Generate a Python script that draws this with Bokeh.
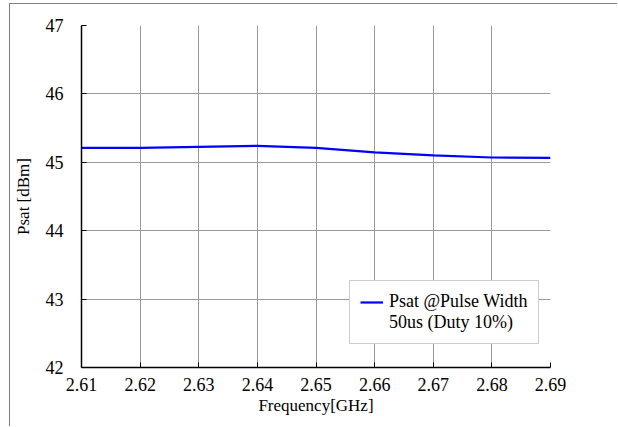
from bokeh.plotting import figure
from bokeh.models import (FixedTicker, NumeralTickFormatter, Legend, LegendItem, Range1d)
from bokeh.embed import file_html
from bokeh.resources import INLINE

freq = [2.61, 2.62, 2.63, 2.64, 2.65, 2.66, 2.67, 2.68, 2.69]
psat = [45.21, 45.21, 45.225, 45.24, 45.21, 45.145, 45.10, 45.07, 45.065]
x_ticks = [2.61, 2.62, 2.63, 2.64, 2.65, 2.66, 2.67, 2.68, 2.69]
y_ticks = [42, 43, 44, 45, 46, 47]
label_1 = "Psat @Pulse Width"
label_2 = "50us (Duty 10%)"

FONT = "Liberation Serif"

p = figure(width=608, height=423, output_backend="svg", toolbar_location=None,
           x_range=Range1d(2.61, 2.69), y_range=Range1d(42, 47),
           min_border_left=70, min_border_right=68, min_border_top=21, min_border_bottom=60)
p.styles = {"border-top": "1px solid #808080", "border-left": "1px solid #808080",
            "margin-top": "3px", "margin-left": "9px"}
p.outline_line_color = None
p.background_fill_color = "white"
p.border_fill_color = "white"

r = p.line(freq, psat, line_color="#0000ff", line_width=2.2)
dummy = p.line(freq, psat, line_alpha=0)

for ax in (p.xaxis[0], p.yaxis[0]):
    ax.axis_line_color = "black"
    ax.axis_line_width = 1.5
    ax.major_tick_in = 5
    ax.major_tick_out = 0
    ax.major_tick_line_color = "black"
    ax.minor_tick_line_color = None
    ax.major_label_text_font = FONT
    ax.major_label_text_font_size = "18px"
    ax.major_label_text_font_style = "normal"
    ax.major_label_text_color = "black"
    ax.axis_label_text_font = FONT
    ax.axis_label_text_font_size = "17px"
    ax.axis_label_text_font_style = "normal"
    ax.axis_label_text_color = "black"

p.xaxis.ticker = FixedTicker(ticks=x_ticks)
p.xaxis.formatter = NumeralTickFormatter(format="0.00")
p.yaxis.ticker = FixedTicker(ticks=y_ticks)
p.yaxis.formatter = NumeralTickFormatter(format="0")
p.xaxis.axis_label = "Frequency[GHz]"
p.yaxis.axis_label = "Psat [dBm]"
p.xaxis.major_label_standoff = 10
p.xaxis.axis_label_standoff = 2
p.yaxis.major_label_standoff = 18
p.yaxis.axis_label_standoff = 10

p.xgrid.ticker = FixedTicker(ticks=x_ticks)
p.ygrid.ticker = FixedTicker(ticks=y_ticks)
p.grid.grid_line_color = "#999999"
p.grid.grid_line_width = 1

legend = Legend(items=[LegendItem(label=label_1, renderers=[r]),
                       LegendItem(label=label_2, renderers=[dummy])],
                location=(268, 23))
legend.label_text_font = FONT
legend.label_text_font_size = "18px"
legend.label_text_font_style = "normal"
legend.label_text_color = "black"
legend.border_line_color = "#999999"
legend.border_line_width = 1
legend.padding = 10
legend.margin = 0
legend.spacing = 0
legend.glyph_width = 23
legend.glyph_height = 20
legend.label_height = 20
legend.label_standoff = 6
legend.background_fill_alpha = 1
p.add_layout(legend, "center")

open("out.html", "w").write(file_html(p, INLINE))
